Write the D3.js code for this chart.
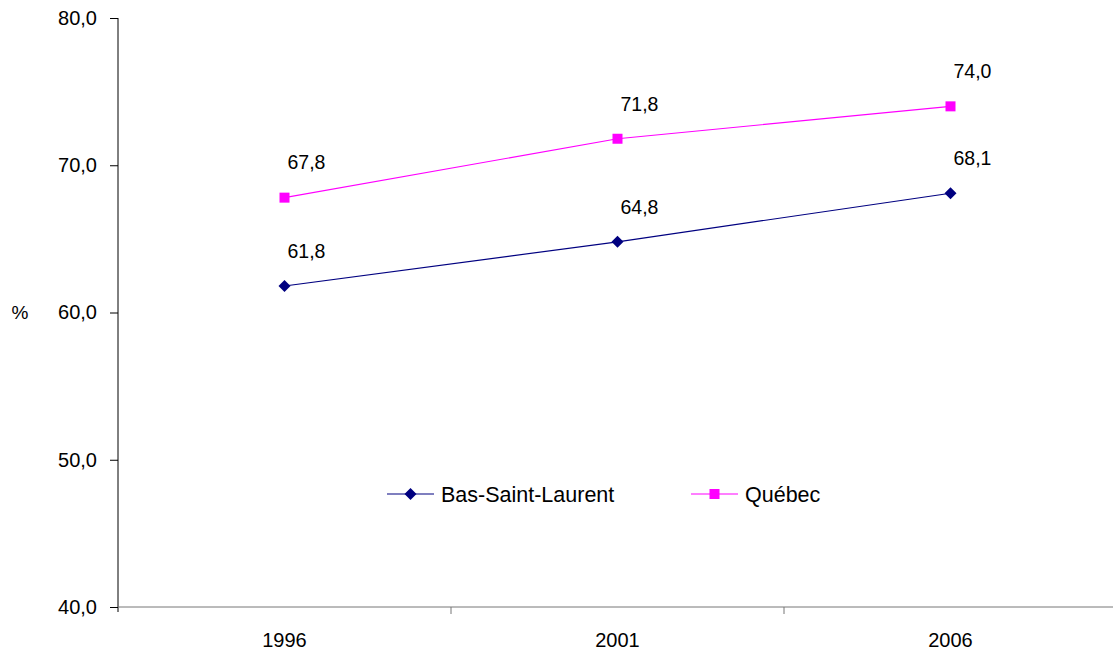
<!DOCTYPE html>
<html>
<head>
<meta charset="utf-8">
<script src="https://cdn.jsdelivr.net/npm/d3@7"></script>
<style>
  body { margin: 0; background: #fff; }
  text { font-family: "Liberation Sans", Arial, sans-serif; fill: #000; }
</style>
</head>
<body>
<div id="vis"></div>
<script>
var width = 1113,
    height = 656;

// data
var years = ["1996", "2001", "2006"];
var bslValues = [61.8, 64.8, 68.1];
var quebecValues = [67.8, 71.8, 74.0];
var yTicks = [40, 50, 60, 70, 80];
var seriesNames = ["Bas-Saint-Laurent", "Québec"];

var fmt = function(v) { return d3.format(".1f")(v).replace(".", ","); };

var svg = d3.select("#vis").append("svg")
    .attr("width", width)
    .attr("height", height);

var x = d3.scaleBand()
    .domain(years)
    .range([118, 1117]);

var y = d3.scaleLinear()
    .domain([40, 80])
    .range([607, 18]);

//--------AXES--------//
var yAxis = svg.append("g")
    .attr("transform", "translate(118,0)")
    .call(d3.axisLeft(y).tickValues(yTicks).tickSize(8).tickPadding(13).tickFormat(fmt));
yAxis.select(".domain").attr("stroke", "#000").attr("d", "M0,18V612");
yAxis.selectAll(".tick line").attr("stroke", "#000");
yAxis.selectAll("text").style("font-size", "20px");

var xAxis = svg.append("g")
    .attr("transform", "translate(0,607)")
    .call(d3.axisBottom(x).tickSize(0).tickPadding(26));
xAxis.select(".domain").attr("stroke", "#777").attr("d", "M118,0H1117");
xAxis.selectAll("text").style("font-size", "20px");

// category boundary ticks
svg.append("g").selectAll("line")
    .data(years.slice(1))
    .enter()
    .append("line")
    .attr("x1", function(d) { return x(d); })
    .attr("x2", function(d) { return x(d); })
    .attr("y1", 607)
    .attr("y2", 614)
    .attr("stroke", "#777");

svg.append("text")
    .attr("x", 20)
    .attr("y", 312)
    .attr("text-anchor", "middle")
    .attr("dy", "0.35em")
    .style("font-size", "19px")
    .text("%");

//--------SERIES--------//
var series = [
    { name: seriesNames[0], values: bslValues, color: "#000080", shape: "diamond" },
    { name: seriesNames[1], values: quebecValues, color: "#FF00FF", shape: "square" }
];

var line = d3.line()
    .x(function(d, i) { return x(years[i]) + x.bandwidth() / 2; })
    .y(function(d) { return y(d); });

function marker(g, shape, color) {
    if (shape === "diamond") {
        g.append("path")
            .attr("d", "M0,-6L6,0L0,6L-6,0Z")
            .attr("fill", color);
    } else {
        g.append("rect")
            .attr("x", -5).attr("y", -5)
            .attr("width", 10).attr("height", 10)
            .attr("fill", color);
    }
}

series.forEach(function(s) {
    svg.append("path")
        .datum(s.values)
        .attr("d", line)
        .attr("fill", "none")
        .attr("stroke", s.color)
        .attr("stroke-width", 1.2);

    s.values.forEach(function(v, i) {
        var cx = x(years[i]) + x.bandwidth() / 2,
            cy = y(v);
        var g = svg.append("g").attr("transform", "translate(" + cx + "," + cy + ")");
        marker(g, s.shape, s.color);
        svg.append("text")
            .attr("x", cx + 22)
            .attr("y", cy - 35)
            .attr("text-anchor", "middle")
            .attr("dy", "0.35em")
            .style("font-size", "19.5px")
            .text(fmt(v));
    });
});

//--------LEGEND--------//
var legendPos = [387, 691];
series.forEach(function(s, i) {
    var lx = legendPos[i], ly = 494;
    svg.append("line")
        .attr("x1", lx).attr("x2", lx + 47)
        .attr("y1", ly).attr("y2", ly)
        .attr("stroke", s.color)
        .attr("stroke-width", 1.2);
    var g = svg.append("g").attr("transform", "translate(" + (lx + 23.5) + "," + ly + ")");
    marker(g, s.shape, s.color);
    svg.append("text")
        .attr("x", lx + 54)
        .attr("y", ly)
        .attr("dy", "0.35em")
        .style("font-size", "21.5px")
        .text(s.name);
});
</script>
</body>
</html>
